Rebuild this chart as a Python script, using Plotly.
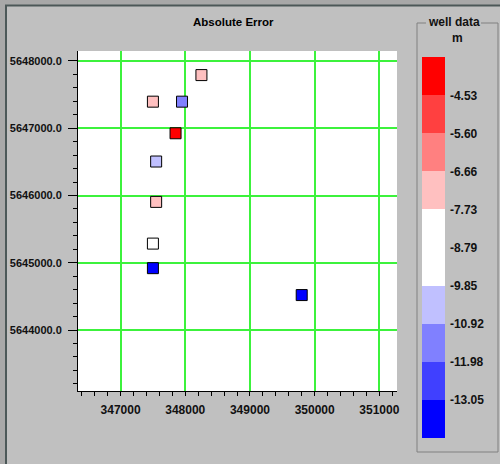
import plotly.graph_objects as go

# ---- data ----
easting = [348250, 347500, 347950, 347850, 347550, 347550, 347500, 347500, 349800]
northing = [5647790, 5647395, 5647395, 5646925, 5646505, 5645905, 5645285, 5644920, 5644520]
abs_error = [-7.2, -7.2, -11.4, -4.1, -10.3, -7.2, -9.0, -13.6, -13.6]

cb_bounds = [-4.53, -5.60, -6.66, -7.73, -8.79, -9.85, -10.92, -11.98, -13.05]
cb_labels = ["-4.53", "-5.60", "-6.66", "-7.73", "-8.79", "-9.85", "-10.92", "-11.98", "-13.05"]
bin_colors = ["#0000ff", "#4040ff", "#8080ff", "#c0c0ff", "#ffffff",
              "#ffffff", "#ffc0c0", "#ff8080", "#ff4040", "#ff0000"]  # low -> high

x_ticks = [347000, 348000, 349000, 350000, 351000]
y_ticks = [5644000, 5645000, 5646000, 5647000, 5648000]

# ---- layout geometry (pixels) ----
W, H = 500, 464
L, R, T, B = 78, 397, 51, 391
step = (cb_bounds[0] - cb_bounds[-1]) / (len(cb_bounds) - 1)
cmax = cb_bounds[0] + step
cmin = cb_bounds[-1] - step

n = len(bin_colors)
colorscale = []
for i, c in enumerate(bin_colors):
    colorscale.append([i / n, c])
    colorscale.append([(i + 1) / n, c])

def px(xp):
    return (xp - L) / (R - L)

def py(yp):
    return (B - yp) / (B - T)

FONT = "Liberation Sans, Arial, sans-serif"
TXT = "#111111"

fig = go.Figure()
fig.add_trace(go.Scatter(
    x=easting, y=northing, mode="markers",
    marker=dict(
        symbol="square", size=11,
        color=abs_error, colorscale=colorscale, cmin=cmin, cmax=cmax,
        line=dict(color="black", width=1),
        colorbar=dict(
            thickness=23, lenmode="pixels", len=381,
            x=px(421.7), xanchor="left", xpad=0,
            y=py(247.7), yanchor="middle", ypad=0,
            outlinewidth=0, ticks="outside", ticklen=3, tickcolor="rgba(0,0,0,0)",
            tickvals=cb_bounds, ticktext=cb_labels,
            tickfont=dict(family=FONT, size=12, color=TXT, weight="bold"),
        ),
    ),
    hoverinfo="skip",
    showlegend=False,
))

axis_common = dict(
    showgrid=True, gridcolor="#3cf23c", gridwidth=1.5,
    zeroline=False, showline=True, linecolor="black", linewidth=1,
    ticks="outside", tickcolor="black", mirror=False, automargin=False,
)

fig.update_xaxes(
    range=[346342, 351273], tickvals=x_ticks, tickformat="d",
    ticklen=4, ticklabelstandoff=4,
    minor=dict(tick0=0, dtick=200, ticks="outside", ticklen=4, tickcolor="black", showgrid=False),
    tickfont=dict(family=FONT, size=12, color=TXT, weight="bold"),
    **axis_common,
)
fig.update_yaxes(
    range=[5643094, 5648148], tickvals=y_ticks, tickformat=".1f",
    ticklen=9, ticklabelstandoff=4,
    minor=dict(tick0=0, dtick=200, ticks="outside", ticklen=4, tickcolor="black", showgrid=False),
    tickfont=dict(family=FONT, size=11, color=TXT, weight="bold"),
    **axis_common,
)

shapes = [
    # top/left frame strips
    dict(type="rect", xref="paper", yref="paper", x0=px(0), x1=px(W), y0=py(0), y1=py(5),
         fillcolor="#a8a8a8", line=dict(width=0), layer="below"),
    dict(type="rect", xref="paper", yref="paper", x0=px(0), x1=px(5), y0=py(0), y1=py(H),
         fillcolor="#a8a8a8", line=dict(width=0), layer="below"),
    dict(type="line", xref="paper", yref="paper", x0=px(5), x1=px(W), y0=py(5.5), y1=py(5.5),
         line=dict(color="#4c5858", width=2)),
    dict(type="line", xref="paper", yref="paper", x0=px(6), x1=px(6), y0=py(5), y1=py(H),
         line=dict(color="#4c5858", width=2)),
    # legend group box
    dict(type="line", xref="paper", yref="paper", x0=px(417), x1=px(417), y0=py(23), y1=py(452),
         line=dict(color="#808080", width=1)),
    dict(type="line", xref="paper", yref="paper", x0=px(417), x1=px(498), y0=py(452), y1=py(452),
         line=dict(color="#808080", width=1)),
    dict(type="line", xref="paper", yref="paper", x0=px(498), x1=px(498), y0=py(23), y1=py(452),
         line=dict(color="#808080", width=1)),
    dict(type="line", xref="paper", yref="paper", x0=px(417), x1=px(426), y0=py(23), y1=py(23),
         line=dict(color="#808080", width=1)),
    dict(type="line", xref="paper", yref="paper", x0=px(481), x1=px(498), y0=py(23), y1=py(23),
         line=dict(color="#808080", width=1)),
]

annotations = [
    dict(text="<b>Absolute Error</b>", xref="paper", yref="paper", x=px(233.5), y=py(21.7),
         xanchor="center", yanchor="middle", showarrow=False,
         font=dict(family=FONT, size=11.5, color="black")),
    dict(text="<b>well data</b>", xref="paper", yref="paper", x=px(453.5), y=py(22),
         xanchor="center", yanchor="middle", showarrow=False,
         font=dict(family=FONT, size=12, color=TXT)),
    dict(text="<b>m</b>", xref="paper", yref="paper", x=px(457.5), y=py(38),
         xanchor="center", yanchor="middle", showarrow=False,
         font=dict(family=FONT, size=12, color=TXT)),
]

fig.update_layout(
    width=W, height=H,
    margin=dict(l=L, r=W - R, t=T, b=H - B, pad=0, autoexpand=False),
    paper_bgcolor="#c0c0c0", plot_bgcolor="white",
    shapes=shapes, annotations=annotations,
    font=dict(family=FONT, color=TXT),
)

fig.write_html("out.html", config={"displayModeBar": False},
               post_script="document.body.style.margin='0px';")
